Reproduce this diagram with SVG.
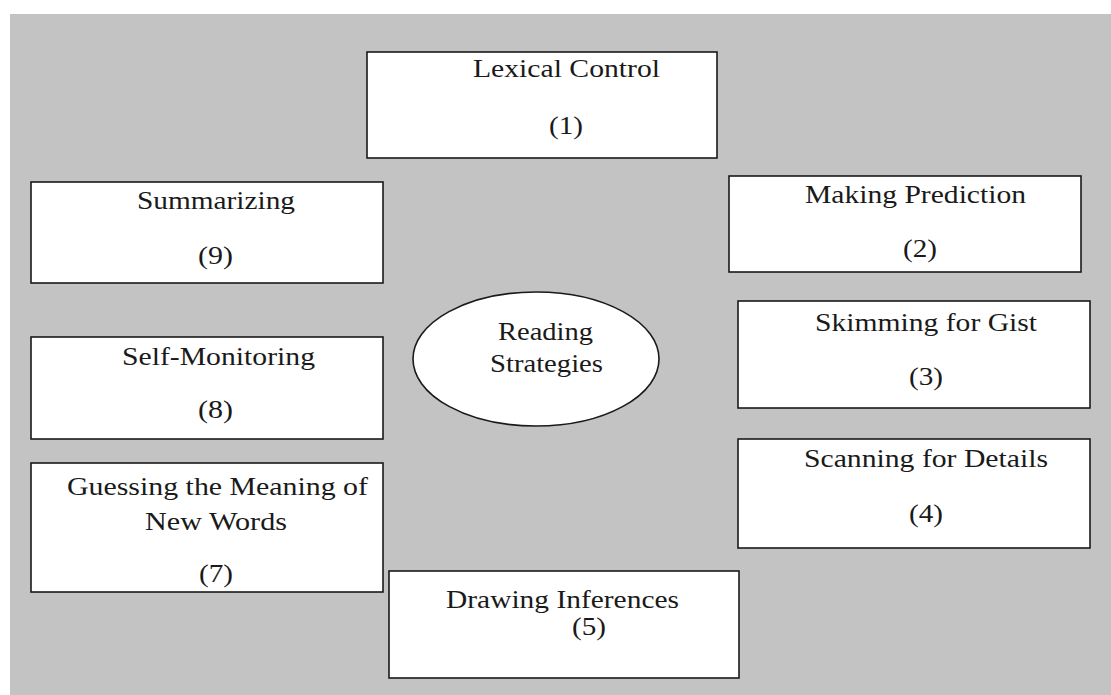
<svg xmlns="http://www.w3.org/2000/svg" width="1111" height="695" viewBox="0 0 1111 695">
<style>
.box{fill:#fff;stroke:#1a1a1a;stroke-width:1.6}
.t{font-family:'Liberation Serif','Times New Roman',Times,'DejaVu Serif',serif;font-size:25px;fill:#1a1a1a}
</style>
<rect x="0" y="0" width="1111" height="695" fill="#fff"/>
<rect x="10" y="14" width="1101" height="681" fill="#c3c3c3"/>
<g id="connectors"></g>
<g class="t" font-family="Liberation Serif, serif">
<g id="center">
<ellipse cx="536" cy="359" rx="123" ry="67" class="box"/>
<text x="498" y="340" textLength="95" lengthAdjust="spacingAndGlyphs">Reading</text>
<text x="490" y="372" textLength="113" lengthAdjust="spacingAndGlyphs">Strategies</text>
</g>
<g id="n1">
<rect x="367" y="52" width="350" height="106" class="box"/>
<text x="473" y="77" textLength="187" lengthAdjust="spacingAndGlyphs">Lexical Control</text>
<text x="549" y="134" textLength="34" lengthAdjust="spacingAndGlyphs">(1)</text>
</g>
<g id="n2">
<rect x="729" y="176" width="352" height="96" class="box"/>
<text x="805" y="203" textLength="221" lengthAdjust="spacingAndGlyphs">Making Prediction</text>
<text x="903" y="257" textLength="34" lengthAdjust="spacingAndGlyphs">(2)</text>
</g>
<g id="n3">
<rect x="738" y="301" width="352" height="107" class="box"/>
<text x="815" y="331" textLength="222" lengthAdjust="spacingAndGlyphs">Skimming for Gist</text>
<text x="909" y="385" textLength="34" lengthAdjust="spacingAndGlyphs">(3)</text>
</g>
<g id="n4">
<rect x="738" y="439" width="352" height="109" class="box"/>
<text x="804" y="467" textLength="244" lengthAdjust="spacingAndGlyphs">Scanning for Details</text>
<text x="909" y="522" textLength="34" lengthAdjust="spacingAndGlyphs">(4)</text>
</g>
<g id="n5">
<rect x="389" y="571" width="350" height="107" class="box"/>
<text x="446" y="608" textLength="233" lengthAdjust="spacingAndGlyphs">Drawing Inferences</text>
<text x="572" y="635" textLength="34" lengthAdjust="spacingAndGlyphs">(5)</text>
</g>
<g id="n7">
<rect x="31" y="463" width="352" height="129" class="box"/>
<text x="67" y="495" textLength="301" lengthAdjust="spacingAndGlyphs">Guessing the Meaning of</text>
<text x="145" y="530" textLength="142" lengthAdjust="spacingAndGlyphs">New Words</text>
<text x="199" y="582" textLength="34" lengthAdjust="spacingAndGlyphs">(7)</text>
</g>
<g id="n8">
<rect x="31" y="337" width="352" height="102" class="box"/>
<text x="122" y="365" textLength="193" lengthAdjust="spacingAndGlyphs">Self-Monitoring</text>
<text x="198" y="418" textLength="35" lengthAdjust="spacingAndGlyphs">(8)</text>
</g>
<g id="n9">
<rect x="31" y="182" width="352" height="101" class="box"/>
<text x="137" y="209" textLength="158" lengthAdjust="spacingAndGlyphs">Summarizing</text>
<text x="198" y="264" textLength="35" lengthAdjust="spacingAndGlyphs">(9)</text>
</g>
</g>
</svg>
